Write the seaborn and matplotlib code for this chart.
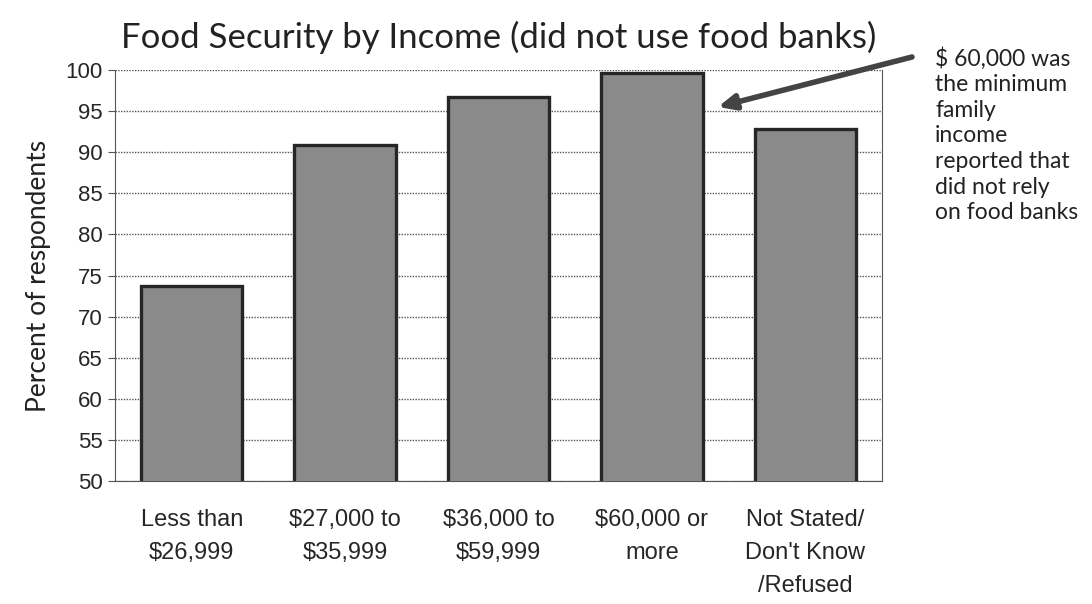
import matplotlib
matplotlib.use("Agg")
import matplotlib.pyplot as plt
import seaborn as sns
import pandas as pd
import numpy as np

categories = ["Less than\n$26,999", "$27,000 to\n$35,999", "$36,000 to\n$59,999",
              "$60,000 or\nmore", "Not Stated/\nDon't Know\n/Refused"]
values = [73.7, 90.9, 96.7, 99.6, 92.8]
yticks = list(range(50, 101, 5))
title = "Food Security by Income (did not use food banks)"
ylabel = "Percent of respondents"
note = "$ 60,000 was\nthe minimum\nfamily\nincome\nreported that\ndid not rely\non food banks"

sns.set_style("white")
plt.rcParams['font.family'] = ['Liberation Sans', 'DejaVu Sans']

df = pd.DataFrame({"cat": categories, "val": values})

fig = plt.figure(figsize=(10.92, 6.04), dpi=100)
ax = fig.add_axes([115/1092, 1-481/604, (882-115)/1092, (481-70)/604])

sns.barplot(data=df, x="cat", y="val", color="#8a8a8a", edgecolor="#262626",
            linewidth=2.4, width=0.66, saturation=1, ax=ax, zorder=3)

ax.set_ylim(50, 100)
ax.set_xlim(-0.5, 4.5)
ax.set_yticks(yticks)
ax.set_yticklabels([str(t) for t in yticks], fontsize=16)
ax.yaxis.grid(True, linestyle=(0, (1, 1)), color="#555555", linewidth=1.0, zorder=0)
ax.set_axisbelow(True)

ax.set_xticks(range(len(categories)))
ax.set_xticklabels(categories, fontsize=17, linespacing=1.65)
ax.tick_params(axis='x', which='major', length=0, pad=20)
ax.set_xticks(np.arange(-0.5, len(categories), 1.0), minor=True)
ax.tick_params(axis='x', which='minor', length=6, width=0.8, color="#555555", direction='out')
ax.tick_params(axis='y', which='major', length=5, width=0.8, color="#555555", direction='out', left=True, pad=4)

for s in ["left", "bottom", "right"]:
    ax.spines[s].set_visible(True)
    ax.spines[s].set_color("#555555")
    ax.spines[s].set_linewidth(0.8)
ax.spines["top"].set_visible(False)

ax.set_xlabel("")
ax.set_ylabel(ylabel, fontsize=19, family=['Lato', 'DejaVu Sans'], labelpad=10, color="#222222")
ax.set_title(title, fontsize=25, family=['Lato', 'DejaVu Sans'], pad=16, color="#222222")

ax.annotate("", xy=(3.43, 95.5), xycoords="data",
            xytext=(912/1092, 1-57/604), textcoords="figure fraction",
            arrowprops=dict(arrowstyle="-|>,head_length=1.0,head_width=0.45",
                            color="#444444", lw=4, shrinkA=0, shrinkB=0),
            annotation_clip=False)

fig.text(935/1092, 1-47/604, note, fontsize=16.5, family=['Lato', 'DejaVu Sans'],
         ha="left", va="top", linespacing=1.27, color="#222222")

fig.savefig("out.png", dpi=100)
